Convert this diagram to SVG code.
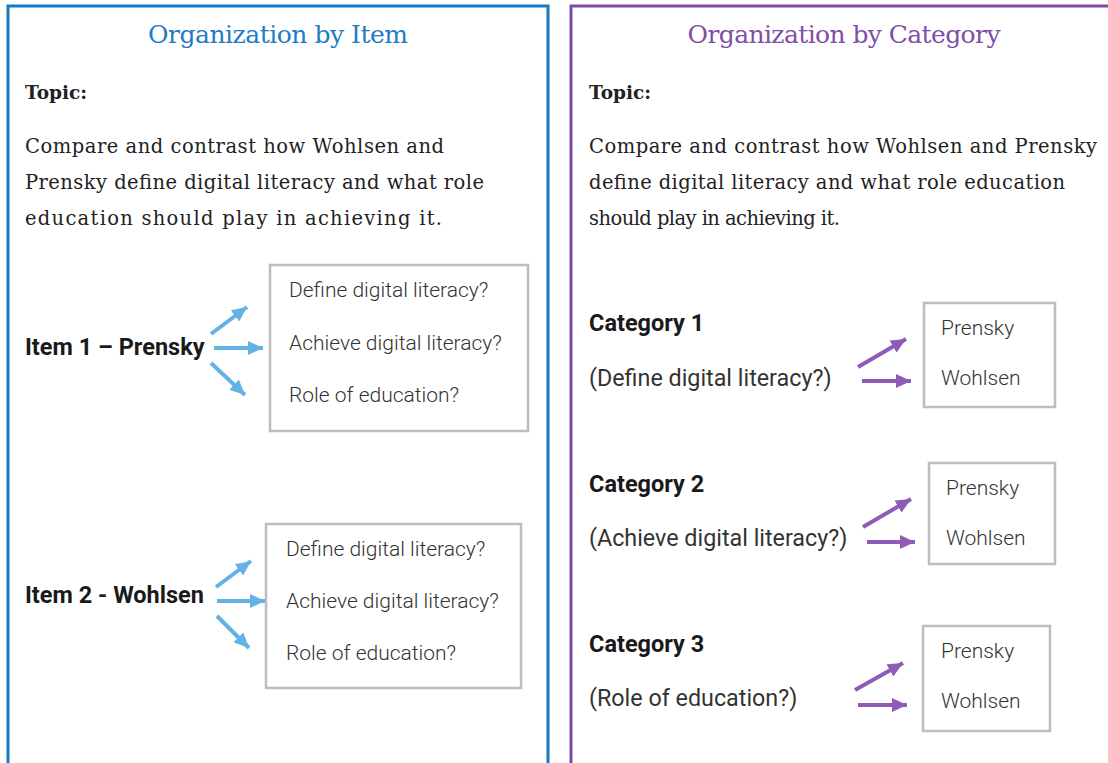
<svg xmlns="http://www.w3.org/2000/svg" width="1108" height="763" viewBox="0 0 1108 763">
<style>
.title{font-family:"DejaVu Serif","Liberation Serif",serif;font-size:25px;text-anchor:middle}
.topic{font-family:"DejaVu Serif","Liberation Serif",serif;font-size:18.5px;font-weight:bold;fill:#222}
.para{font-family:"DejaVu Serif","Liberation Serif",serif;font-size:19.5px;fill:#222}
.lbl{font-family:Roboto,"Liberation Sans",sans-serif;font-size:23.5px;font-weight:bold;fill:#1a1a1a}
.sub{font-family:Roboto,"Liberation Sans",sans-serif;font-size:23.3px;fill:#333}
.bx{font-family:Roboto,"Liberation Sans",sans-serif;font-size:21px;font-weight:300;fill:#333}
.box{fill:#fff;stroke:#bdbdbd;stroke-width:2.5}
.ab{stroke:#63b2e6;stroke-width:4;fill:none;marker-end:url(#mb)}
.ap{stroke:#8e5cb6;stroke-width:4;fill:none;marker-end:url(#mp)}
</style>
<defs>
<marker id="mb" markerUnits="userSpaceOnUse" markerWidth="16" markerHeight="14" refX="15" refY="7" orient="auto"><path d="M0,0 L15,7 L0,14 z" fill="#63b2e6"/></marker>
<marker id="mp" markerUnits="userSpaceOnUse" markerWidth="16" markerHeight="14" refX="15" refY="7" orient="auto"><path d="M0,0 L15,7 L0,14 z" fill="#8e5cb6"/></marker>
</defs>
<rect width="1108" height="763" fill="#fff"/>
<g id="panel-item">
<path d="M8,763 V6 H548 V763" fill="none" stroke="#1a78c2" stroke-width="3"/>
<text class="title" x="278" y="43" fill="#1f7bc4" textLength="260">Organization by Item</text>
<text class="topic" x="25" y="99">Topic:</text>
<text class="para" x="25" y="153" textLength="419">Compare and contrast how Wohlsen and</text>
<text class="para" x="25" y="189" textLength="459">Prensky define digital literacy and what role</text>
<text class="para" x="25" y="225" textLength="417">education should play in achieving it.</text>
</g>
<g id="item1">
<text class="lbl" x="25" y="355">Item 1 – Prensky</text>
<rect class="box" x="270" y="265" width="258" height="166"/>
<text class="bx" x="289" y="297">Define digital literacy?</text>
<text class="bx" x="289" y="350">Achieve digital literacy?</text>
<text class="bx" x="289" y="402">Role of education?</text>
</g>
<g id="item2">
<text class="lbl" x="25" y="603">Item 2 - Wohlsen</text>
<rect class="box" x="266" y="524" width="255" height="164"/>
<text class="bx" x="286" y="556">Define digital literacy?</text>
<text class="bx" x="286" y="608">Achieve digital literacy?</text>
<text class="bx" x="286" y="660">Role of education?</text>
</g>
<g id="panel-category">
<path d="M571,763 V6 H1108" fill="none" stroke="#7d4aa6" stroke-width="3"/>
<text class="title" x="844" y="43" fill="#7f4ea8" textLength="313">Organization by Category</text>
<text class="topic" x="589" y="99">Topic:</text>
<text class="para" x="589" y="153" textLength="508">Compare and contrast how Wohlsen and Prensky</text>
<text class="para" x="589" y="189" textLength="476">define digital literacy and what role education</text>
<text class="para" x="589" y="225" textLength="251">should play in achieving it.</text>
</g>
<g id="cat1">
<text class="lbl" x="589" y="331">Category 1</text>
<text class="sub" x="589" y="386">(Define digital literacy?)</text>
<rect class="box" x="924" y="303" width="131" height="104"/>
<text class="bx" x="941" y="335">Prensky</text>
<text class="bx" x="941" y="385">Wohlsen</text>
</g>
<g id="cat2">
<text class="lbl" x="589" y="492">Category 2</text>
<text class="sub" x="589" y="546">(Achieve digital literacy?)</text>
<rect class="box" x="929" y="463" width="126" height="101"/>
<text class="bx" x="946" y="495">Prensky</text>
<text class="bx" x="946" y="545">Wohlsen</text>
</g>
<g id="cat3">
<text class="lbl" x="589" y="652">Category 3</text>
<text class="sub" x="589" y="706">(Role of education?)</text>
<rect class="box" x="923" y="626" width="127" height="105"/>
<text class="bx" x="941" y="658">Prensky</text>
<text class="bx" x="941" y="708">Wohlsen</text>
</g>
<g id="connectors">
<line class="ab" x1="211" y1="334" x2="247" y2="307"/>
<line class="ab" x1="214" y1="348" x2="263" y2="348"/>
<line class="ab" x1="211" y1="363" x2="245" y2="395"/>
<line class="ab" x1="216" y1="587" x2="251" y2="561"/>
<line class="ab" x1="217" y1="601" x2="265" y2="601"/>
<line class="ab" x1="217" y1="616" x2="249" y2="648"/>
<line class="ap" x1="858" y1="367" x2="906" y2="339"/>
<line class="ap" x1="862" y1="381" x2="911" y2="381"/>
<line class="ap" x1="863" y1="527" x2="911" y2="499"/>
<line class="ap" x1="867" y1="542" x2="915" y2="542"/>
<line class="ap" x1="855" y1="690" x2="903" y2="663"/>
<line class="ap" x1="858" y1="705" x2="907" y2="705"/>
</g>
</svg>
